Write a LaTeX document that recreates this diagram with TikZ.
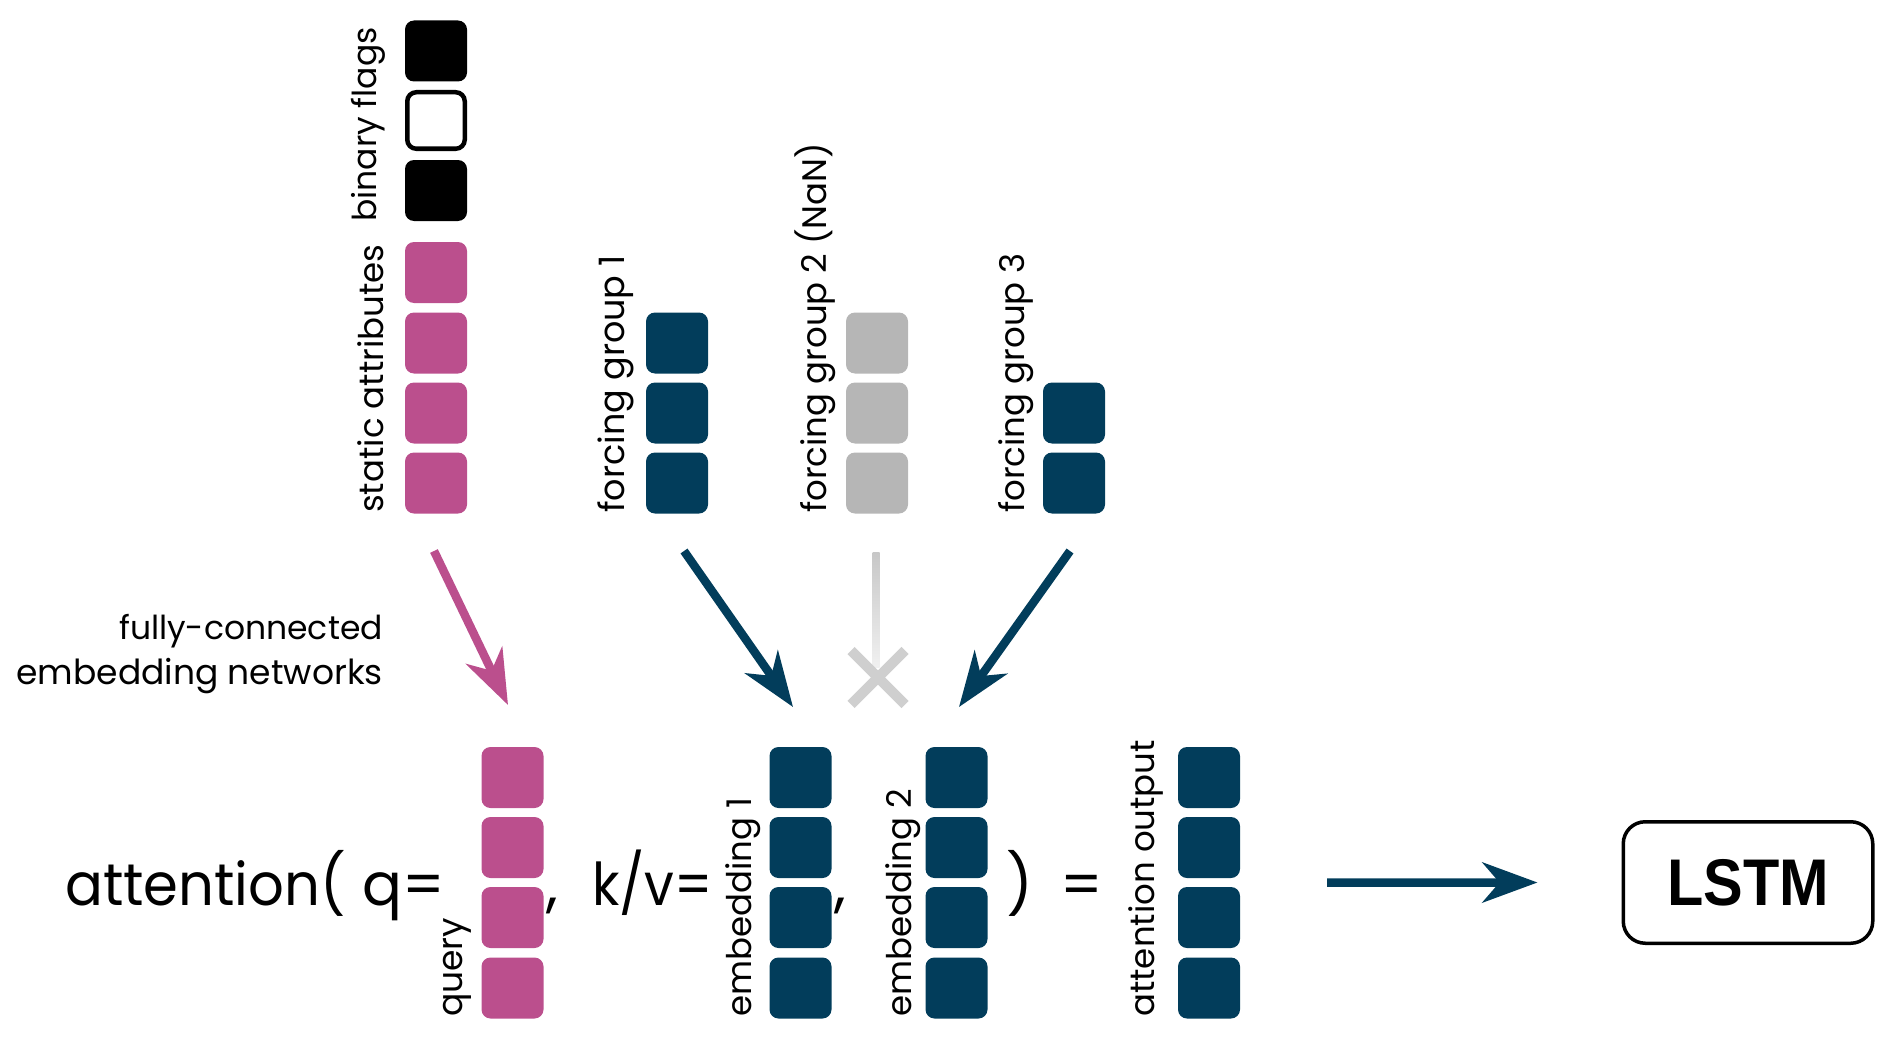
\documentclass[tikz,border=0pt]{standalone}
\usepackage{fontspec}
\setmainfont{Poppins}
\newfontfamily\lstmfont{Liberation Sans}
\usetikzlibrary{arrows.meta,calc}
\definecolor{pinkc}{HTML}{BB4F8D}
\definecolor{bluec}{HTML}{023D5B}
\definecolor{grayc}{HTML}{B6B6B6}
\definecolor{xgray}{HTML}{CFCFCF}
\begin{document}
\begin{tikzpicture}[x=1pt,y=-1pt,
  cell/.style={rectangle, rounded corners=9pt, minimum width=62pt, minimum height=61pt, inner sep=0pt},
  pcell/.style={cell, fill=pinkc},
  bcell/.style={cell, fill=bluec},
  gcell/.style={cell, fill=grayc},
  kcell/.style={cell, fill=black},
  wcell/.style={cell, draw=black, line width=4.5pt, fill=white, minimum width=57.5pt, minimum height=56.5pt},
  lab/.style={rotate=90, anchor=base west, inner sep=0pt, font=\fontsize{34.5}{40}\selectfont},
  big/.style={anchor=base west, inner sep=0pt, font=\fontsize{59}{70}\selectfont},
  side/.style={anchor=base east, inner sep=0pt, font=\fontsize{34.5}{40}\selectfont},
  arr/.style={line width=8.5pt, -{Stealth[length=55pt,width=40pt,inset=17pt]}}
]
\useasboundingbox (0,0) rectangle (1892,1038);

% binary flags + static attributes
\node[kcell] (f1) at (436,51) {};
\node[wcell] (f2) at (436,120.5) {};
\node[kcell] (f3) at (436,190.5) {};
\node[pcell] (s1) at (436,272.5) {};
\node[pcell] (s2) at (436,343) {};
\node[pcell] (s3) at (436,413) {};
\node[pcell] (s4) at (436,483) {};
\node[lab, font=\fontsize{33}{40}\selectfont] (lf) at (376,222) {binary flags};
\node[lab, font=\fontsize{34}{40}\selectfont] (ls) at (383,513) {static attributes};

% forcing group 1
\node[bcell] (a1) at (677,343) {};
\node[bcell] (a2) at (677,413) {};
\node[bcell] (a3) at (677,483) {};
\node[lab, font=\fontsize{35}{40}\selectfont] (la) at (624,513) {forcing group 1};
% forcing group 2
\node[gcell] (b1) at (877,343) {};
\node[gcell] (b2) at (877,413) {};
\node[gcell] (b3) at (877,483) {};
\node[lab, font=\fontsize{34}{40}\selectfont] (lb) at (826,513) {forcing group 2 (NaN)};
% forcing group 3
\node[bcell] (c1) at (1074,413) {};
\node[bcell] (c2) at (1074,483) {};
\node[lab, font=\fontsize{34}{40}\selectfont] (lc) at (1024,513) {forcing group 3};

% bottom row
\foreach \n/\y in {1/777.5,2/847.5,3/917.5,4/988}{
  \node[pcell] (q\n) at (512.5,\y) {};
  \node[bcell] (e\n) at (800.5,\y) {};
  \node[bcell] (g\n) at (956.5,\y) {};
  \node[bcell] (o\n) at (1209,\y) {};
}
\node[lab] (lq) at (462,1017) {query};
\node[lab, font=\fontsize{34}{40}\selectfont] (le1) at (751,1017) {embedding 1};
\node[lab, font=\fontsize{34}{40}\selectfont] (le2) at (911,1017) {embedding 2};
\node[lab, font=\fontsize{34}{40}\selectfont] (lo) at (1154,1017) {attention output};

\node[big] (t1) at (65,905) {\scalebox{0.95}[1]{attention(}};
\node[big] (t2) at (362,905) {q=};
\node[big] (t3) at (546,905) {,};
\node[big] (t4) at (592,905) {\scalebox{0.9}[1]{k/v=}};
\node[big] (t5) at (834,905) {,};
\node[big] (t6) at (1006,905) {)};
\node[big] (t7) at (1060,905) {=};

\node[side, font=\fontsize{33}{40}\selectfont] (fc1) at (383,639) {fully-connected};
\node[side] (fc2) at (383,684) {embedding networks};

% LSTM
\node[draw=black, line width=3.5pt, rounded corners=22pt, minimum width=249.5pt, minimum height=121.5pt, inner sep=0pt] (lstm) at (1748,882.5) {\lstmfont\bfseries\fontsize{66}{70}\selectfont\scalebox{0.9}[1]{LSTM}};

% arrows
\coordinate (ps) at (434,551);
\coordinate (pe) at (508,705);
\draw[arr, pinkc] (ps) -- (pe);
\coordinate (as) at (684,551);
\coordinate (ae) at (793,707);
\draw[arr, bluec] (as) -- (ae);
\coordinate (cs) at (1070,551);
\coordinate (ce) at (959,707);
\draw[arr, bluec] (cs) -- (ce);

% gray blocked connector
\coordinate (gs) at (876,552);
\coordinate (xc) at (878,677.5);
\shade[top color=xgray!90!gray, bottom color=xgray!30] ($(gs)+(-3.5,0)$) rectangle ($(xc)+(1.5,-10)$);
\draw[xgray, line width=10pt] ($(xc)+(-27,-27)$) -- ($(xc)+(27,27)$);
\draw[xgray, line width=10pt] ($(xc)+(27,-27)$) -- ($(xc)+(-27,27)$);

% to LSTM
\coordinate (oc) at ($(o2.south east)!0.5!(o3.north east)$);
\draw[arr, bluec] ([xshift=87pt]oc) -- ([xshift=-84pt]lstm.west);
\end{tikzpicture}
\end{document}
